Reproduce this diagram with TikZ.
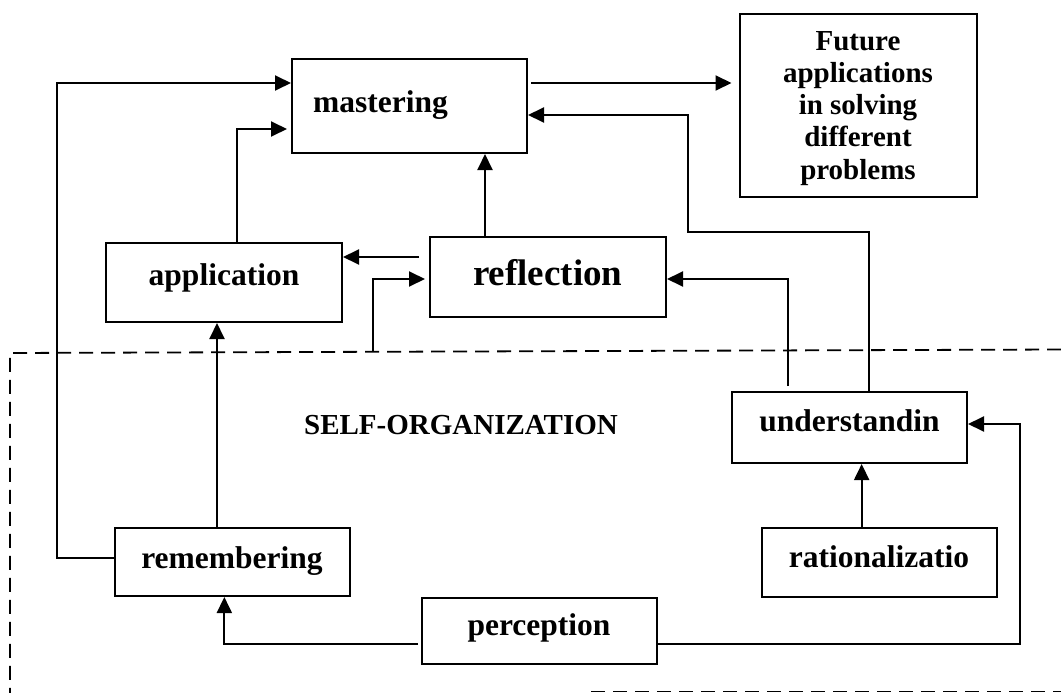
\documentclass[tikz,border=0pt]{standalone}
\usepackage{fontspec}
\setmainfont{Liberation Serif}
\usetikzlibrary{arrows.meta}

\begin{document}
\begin{tikzpicture}[x=1pt,y=-1pt,
  box/.style={draw, line width=2pt, rectangle, inner sep=0pt},
  lbl/.style={inner sep=0pt, anchor=base, font=\fontsize{31.5}{36}\selectfont\bfseries},
  arr/.style={line width=1.9pt, -{Triangle[length=16pt,width=15pt]}},
  zone/.style={line width=1.8pt, dash pattern=on 14pt off 8pt}]
\useasboundingbox (0,0) rectangle (1061,693);

% boxes
\node[box, minimum width=235pt, minimum height=94pt]   (mast) at (409.5,106) {};
\node[box, minimum width=237.5pt, minimum height=183pt] (fut) at (858.25,105.5) {};
\node[box, minimum width=236pt, minimum height=79pt]   (app)  at (224,282.5) {};
\node[box, minimum width=236pt, minimum height=80pt]   (refl) at (548,277) {};
\node[box, minimum width=235pt, minimum height=71pt]   (und)  at (849.5,427.5) {};
\node[box, minimum width=235.5pt, minimum height=69pt] (rat)  at (879.25,562.5) {};
\node[box, minimum width=235.3pt, minimum height=68pt] (rem)  at (232.35,562) {};
\node[box, minimum width=235pt, minimum height=66pt]   (perc) at (539.5,631) {};

% labels
\node[lbl] (tmast) at (380.5,112) {mastering};
\node[lbl] (tapp)  at (224,285) {application};
\node[lbl, font=\fontsize{37}{42}\selectfont\bfseries] (trefl) at (547.75,285) {reflection};
\node[lbl] (tund)  at (849.5,431) {understandin};
\node[lbl] (trat)  at (879,567.7) {rationalizatio};
\node[lbl] (trem)  at (232,568) {remembering};
\node[lbl] (tperc) at (539,635) {perception};
% multi-line label: base anchor sits on the last line
\node[lbl, align=center, font=\fontsize{29}{32.2}\selectfont\bfseries] (tfut) at (858,179)
  {Future\\applications\\in solving\\different\\problems};
\node[lbl, font=\fontsize{29}{34}\selectfont\bfseries] (tself) at (461,434) {SELF-ORGANIZATION};

% self-organization zone
\draw[zone] (1061,349.5) -- (10,353) -- (10,693);
\draw[zone] (591,691.5) -- (1061,691.5);

% connectors
\coordinate (lbend) at (57,83);
\draw[arr] ([yshift=4pt]rem.west) -| (lbend) -- ([yshift=23pt]mast.west);
\draw[arr, shorten >=4pt] ([xshift=13pt]app.north) |- ([yshift=-23pt]mast.west);
\draw[arr] ([xshift=-63pt]refl.north) -- ([xshift=-63pt]refl.north |- mast.south);
\draw[arr] ([xshift=-10pt,yshift=20pt]refl.west) -- ([yshift=20pt]refl.west -| app.east);
\coordinate (zin) at (373,351.5);
\draw[arr, shorten >=4pt] (zin) |- ([yshift=-2pt]refl.west);
\draw[arr, shorten >=7pt, shorten <=3pt] ([yshift=23pt]mast.east) -- ([yshift=23pt]mast.east -| fut.west);
\coordinate (ubend) at (688,232);
\draw[arr] ([xshift=19.5pt]und.north) |- (ubend) |- ([yshift=-9pt]mast.east);
\draw[arr] ([xshift=-61.5pt,yshift=5pt]und.north) |- ([yshift=-2pt]refl.east);
\draw[arr] ([xshift=-17.6pt]rat.north) -- ([xshift=-17.6pt]rat.north |- und.south);
\coordinate (rbend) at (1020,424);
\draw[arr] ([yshift=-13pt]perc.east) -| (rbend) -- ([yshift=3.5pt]und.east);
\draw[arr] ([xshift=-3pt,yshift=-13pt]perc.west) -| ([xshift=-8pt]rem.south);
\draw[arr] ([xshift=-15.35pt]rem.north) -- ([xshift=-15.35pt]rem.north |- app.south);
\end{tikzpicture}
\end{document}
